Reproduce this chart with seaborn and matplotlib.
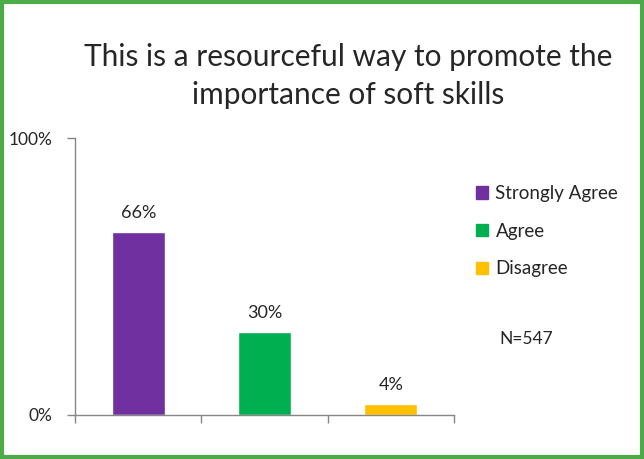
import matplotlib
matplotlib.use("Agg")
import matplotlib.pyplot as plt
import matplotlib.patches as mpatches
import seaborn as sns
import pandas as pd

# Survey responses
categories = ["Strongly Agree", "Agree", "Disagree"]
percentages = [66, 30, 4]
colors = ["#7030A0", "#00B050", "#FFC000"]
title_text = "This is a resourceful way to promote the\nimportance of soft skills"
sample_note = "N=547"
y_ticks = [0, 100]
y_tick_labels = ["0%", "100%"]

df = pd.DataFrame({"response": categories, "pct": percentages})

sns.set_style("white")
plt.rcParams["font.family"] = ["Lato", "DejaVu Sans"]

fig = plt.figure(figsize=(6.44, 4.59), dpi=100)
ax = fig.add_axes([0.1165, 0.0959, 0.5885, 0.603])

sns.barplot(data=df, x="response", y="pct", hue="response",
            palette=colors, width=0.42, legend=False, ax=ax,
            saturation=1)

ax.set_xlim(-0.5, 2.5)
ax.set_ylim(0, 100)
ax.set_xlabel("")
ax.set_ylabel("")

# Category separators on the x axis
ax.set_xticks([-0.5, 0.5, 1.5, 2.5])
ax.set_xticklabels([])
ax.set_yticks(y_ticks)
ax.set_yticklabels(y_tick_labels, fontsize=12.5)
ax.tick_params(axis="both", direction="out", length=6, width=1,
               color="#868686")
ax.tick_params(axis="y", pad=10)
ax.tick_params(axis="x", bottom=True)
ax.tick_params(axis="y", left=True)

for side in ["top", "right"]:
    ax.spines[side].set_visible(False)
for side in ["left", "bottom"]:
    ax.spines[side].set_color("#868686")
    ax.spines[side].set_linewidth(1)

# Value labels above each bar
for bar, val in zip(ax.patches, percentages):
    ax.annotate(f"{val}%", (bar.get_x() + bar.get_width() / 2, val),
                xytext=(0, 8), textcoords="offset points",
                ha="center", va="bottom", fontsize=13)

# Legend
handles = [mpatches.Patch(color=c, label=l) for c, l in zip(colors, categories)]
fig.legend(handles=handles, loc="upper left", bbox_to_anchor=(0.728, 0.613),
           frameon=False, fontsize=13.5, handlelength=0.62, handleheight=0.62,
           handletextpad=0.4, labelspacing=1.1, borderaxespad=0)

fig.text(0.776, 0.262, sample_note, fontsize=12.5, ha="left", va="center")

fig.text(0.54, 0.834, title_text, fontsize=21.5, ha="center", va="center",
         linespacing=1.42)

# Outer border
fig.patches.append(mpatches.Rectangle((0.003, 0.004), 0.994, 0.992,
                                      transform=fig.transFigure, fill=False,
                                      edgecolor="#4DAA48", linewidth=3))

fig.savefig("out.png", dpi=100)
